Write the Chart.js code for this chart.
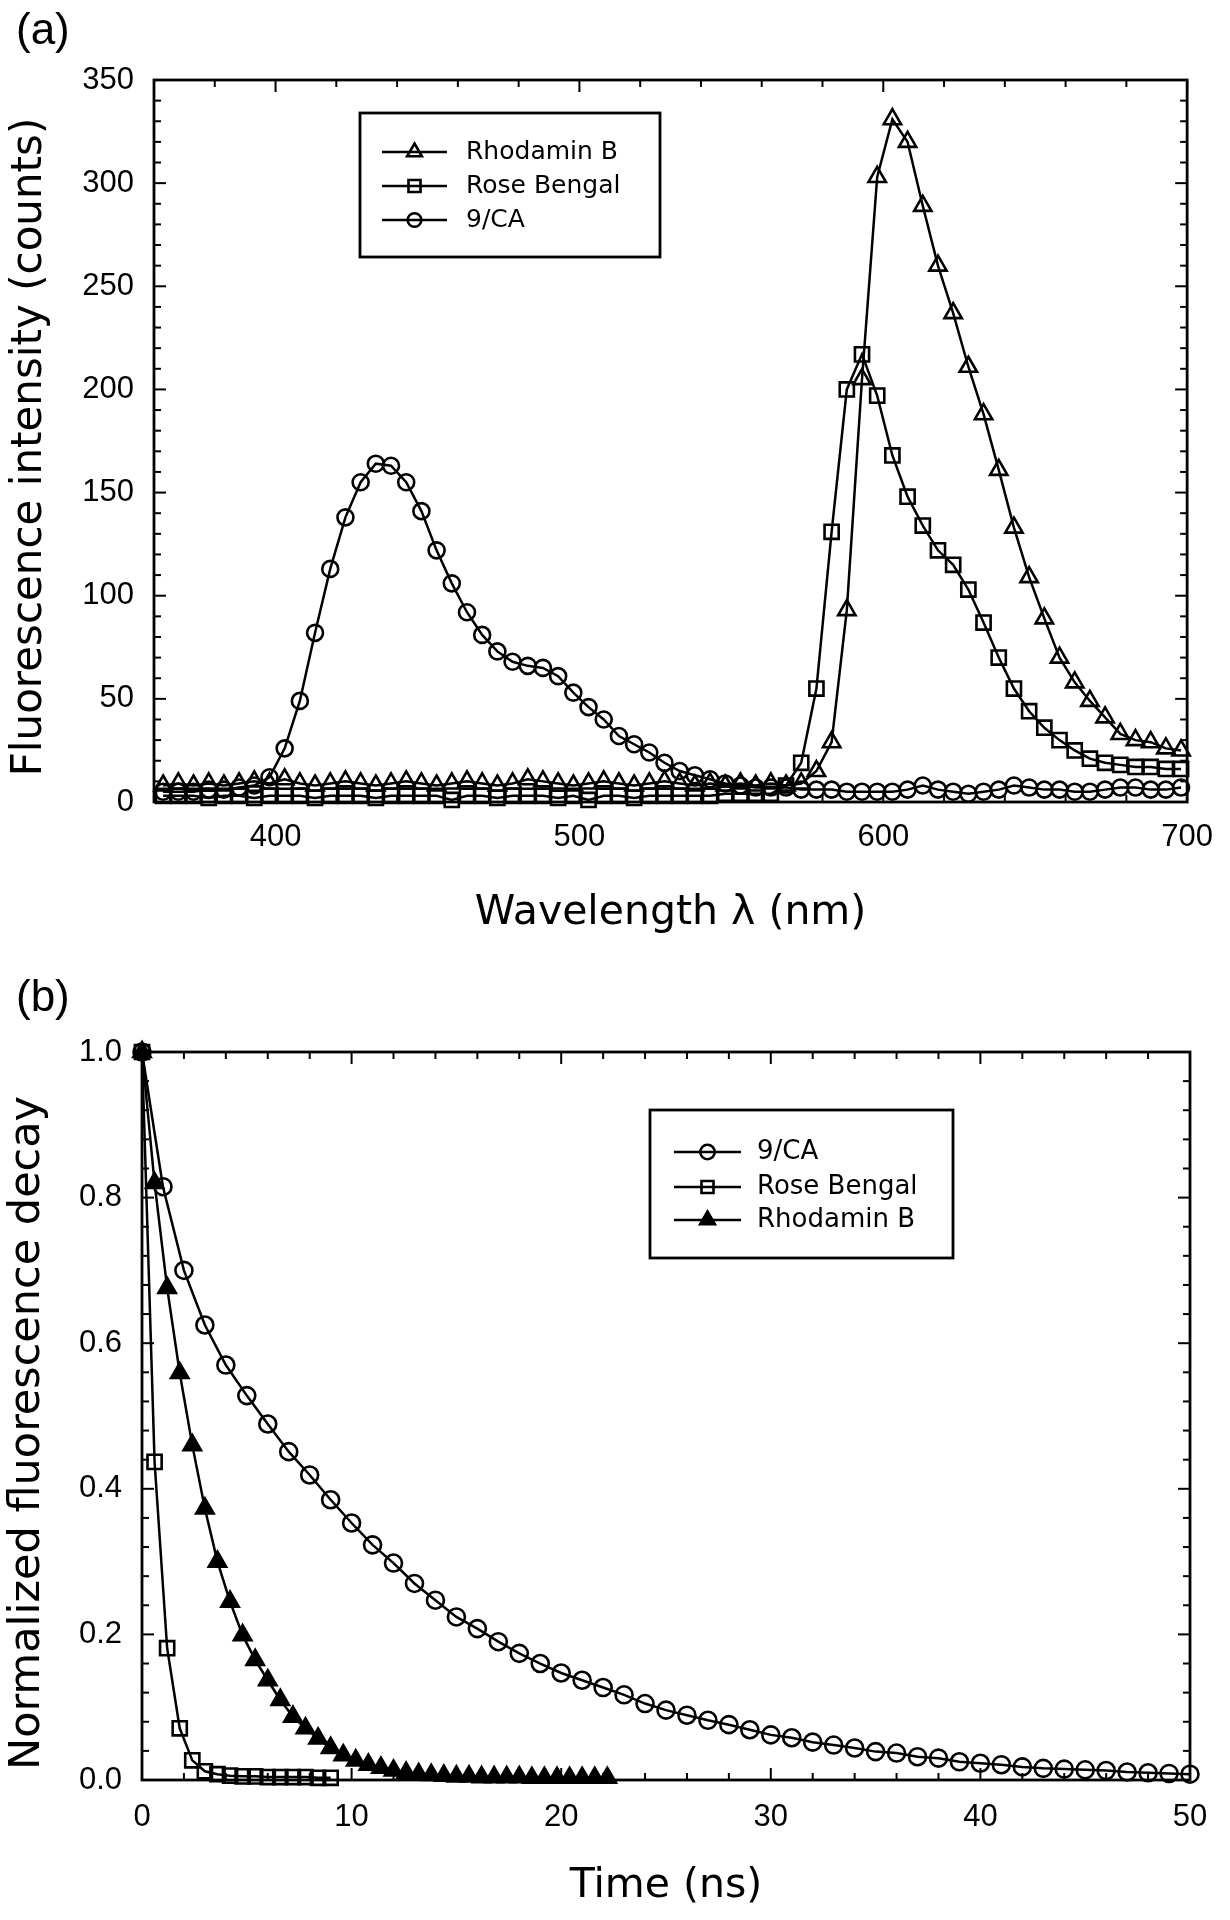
<!DOCTYPE html>
<html>
<head>
<meta charset="utf-8">
<script src="https://cdn.jsdelivr.net/npm/chart.js"></script>
<style>
  body { margin: 0; background: #fff; }
  canvas { display: block; }
  .panel { position: absolute; left: 0; width: 1230px; height: 960px; }
  .tag { position: absolute; left: 16px; font: 44px 'Liberation Sans', Arial, sans-serif; line-height: 1; color: #000; }
</style>
</head>
<body>
<div class="panel" style="top:0">
  <canvas id="chartA" width="1230" height="960"></canvas>
  <div class="tag" style="top:7px">(a)</div>
</div>
<div class="panel" style="top:960px">
  <canvas id="chartB" width="1230" height="960"></canvas>
  <div class="tag" style="top:14px">(b)</div>
</div>
<script>
// ---- (a) emission spectra ----
const wavelengths = [363,368,373,378,383,388,393,398,403,408,413,418,423,428,433,438,443,448,453,458,
  463,468,473,478,483,488,493,498,503,508,513,518,523,528,533,538,543,548,553,558,
  563,568,573,578,583,588,593,598,603,608,613,618,623,628,633,638,643,648,653,658,
  663,668,673,678,683,688,693,698];
const rhodaminSpec = [8,9,8,9,8,9,10,9,11,9, 8,9,10,9,8,9,10,9,8,9, 10,9,8,9,11,10,9,8,9,10,
  9,8,9,10,9,8,9,8,9,8, 9,8,9,
  15,29,93,205,303,331,320,289,260,237,211,188,161,133,109,89,70,58,49,41,33,30,29,26,25];
const roseSpec = [3,3,3,2,3,3,2,3,3,3, 2,3,3,3,2,3,3,3,3,1, 3,3,2,3,3,3,2,3,1,3,
  3,2,3,3,3,3,3,4,4,4, 4,
  8,19,55,131,200,217,197,168,148,134,122,115,103,87,70,55,44,36,30,25,21,19,18,17,17,16,16];
const caSpec = [5,5,5,6,6,7,8,12,26,49, 82,113,138,155,164,163,155,141,122,106,
  92,81,73,68,66,65,61,53,46,40, 32,28,24,19,15,13,11,9,8,7,
  7,7,6,6,6,5,5,5,5,6, 8,6,5,4,5,6,8,7,6,6, 5,5,6,7,7,6,6,7];
const xTicksA = [400, 500, 600, 700];
const yTicksA = [0, 50, 100, 150, 200, 250, 300, 350];

// ---- (b) decay curves ----
const caTime = [0,1,2,3,4,5,6,7,8,9,10,11,12,13,14,15,16,17,18,19,20,21,22,23,24,25,
  26,27,28,29,30,31,32,33,34,35,36,37,38,39,40,41,42,43,44,45,46,47,48,49,50];
const caDecay = [1.0,0.815,0.70,0.625,0.570,0.528,0.489,0.451,0.419,0.385,
  0.353,0.323,0.298,0.270,0.247,0.224,0.208,0.190,0.174,0.160,
  0.147,0.137,0.127,0.117,0.105,0.096,0.089,0.082,0.076,0.069,
  0.062,0.058,0.052,0.048,0.044,0.039,0.037,0.032,0.030,0.025,
  0.023,0.021,0.018,0.016,0.015,0.014,0.013,0.011,0.010,0.009,0.008];
const rbTime = [0,0.6,1.2,1.8,2.4,3.0,3.6,4.2,4.8,5.4,6.0,6.6,7.2,7.8,8.4,9.0];
const rbDecay = [1.0,0.437,0.181,0.071,0.027,0.012,0.008,0.006,0.005,0.005,0.004,0.004,0.004,0.004,0.003,0.003];
const rhTime = [0,0.6,1.2,1.8,2.4,3.0,3.6,4.2,4.8,5.4,6.0,6.6,7.2,7.8,8.4,9.0,9.6,10.2,10.8,11.4,
  12.0,12.6,13.2,13.8,14.4,15.0,15.6,16.2,16.8,17.4,18.0,18.6,19.2,19.8,20.4,21.0,21.6,22.2];
const rhDecay = [1.0,0.82,0.676,0.559,0.46,0.373,0.30,0.245,0.199,0.165,
  0.137,0.11,0.087,0.071,0.057,0.044,0.034,0.027,0.021,0.017,
  0.013,0.010,0.008,0.007,0.006,0.005,0.005,0.004,0.004,0.004,
  0.004,0.003,0.003,0.003,0.003,0.003,0.003,0.003];
const xTicksB = [0, 10, 20, 30, 40, 50];
const yTicksB = [0, 0.2, 0.4, 0.6, 0.8, 1.0];

const tickFont = { family: "'Liberation Sans', Arial, sans-serif", size: 31 };
const titleFont = { family: "'DejaVu Sans', sans-serif", size: 41 };
const HOLLOW = 'rgba(0,0,0,0)';

function series(label, xs, ys, style, r, fill) {
  return {
    label,
    data: xs.map((x, i) => ({ x, y: ys[i] })),
    borderColor: '#000', borderWidth: 2.5,
    pointStyle: style, pointRadius: r,
    pointBorderColor: '#000', pointBackgroundColor: fill, pointBorderWidth: 2.6,
    tension: 0, fill: false, clip: false
  };
}

function drawMarker(ctx, style, r, x, y) {
  ctx.beginPath();
  if (style === 'circle') {
    ctx.arc(x, y, r, 0, Math.PI * 2);
  } else if (style === 'rect') {
    const s = r * Math.SQRT1_2;
    ctx.rect(x - s, y - s, 2 * s, 2 * s);
  } else {
    ctx.moveTo(x, y - r);
    ctx.lineTo(x + r * 0.866, y + r / 2);
    ctx.lineTo(x - r * 0.866, y + r / 2);
    ctx.closePath();
  }
  ctx.fill();
  ctx.stroke();
}

// box round the plot with inward major/minor ticks on all four sides
const frameTicks = {
  id: 'frameTicks',
  afterDatasetsDraw(chart, args, o) {
    const { ctx, chartArea: a, scales: { x, y } } = chart;
    const isMajor = (v, m) => Math.abs(v / m - Math.round(v / m)) < 1e-6;
    const seg = (x1, y1, x2, y2) => { ctx.beginPath(); ctx.moveTo(x1, y1); ctx.lineTo(x2, y2); ctx.stroke(); };
    ctx.save();
    ctx.strokeStyle = '#000';
    ctx.lineWidth = 2.8;
    ctx.strokeRect(a.left, a.top, a.right - a.left, a.bottom - a.top);
    ctx.lineWidth = 2;
    const nx = Math.round((x.max - x.min) / o.xStep);
    for (let i = 0; i <= nx; i++) {
      const v = x.min + i * o.xStep;
      const px = x.getPixelForValue(v);
      const len = isMajor(v, o.xMajor) ? o.majorLen : o.minorLen;
      seg(px, a.bottom, px, a.bottom - len);
      seg(px, a.top, px, a.top + len);
    }
    const ny = Math.round((y.max - y.min) / o.yStep);
    for (let i = 0; i <= ny; i++) {
      const v = y.min + i * o.yStep;
      const py = y.getPixelForValue(v);
      const len = isMajor(v, o.yMajor) ? o.majorLen : o.minorLen;
      seg(a.left, py, a.left + len, py);
      seg(a.right, py, a.right - len, py);
    }
    ctx.restore();
  }
};

// rotated y-axis title, placed by hand
const yTitle = {
  id: 'yTitle',
  afterDraw(chart, args, o) {
    const ctx = chart.ctx;
    ctx.save();
    ctx.translate(o.x, o.y);
    ctx.rotate(-Math.PI / 2);
    ctx.font = o.font;
    ctx.fillStyle = '#000';
    ctx.textAlign = 'center';
    ctx.textBaseline = 'middle';
    ctx.fillText(o.text, 0, 0);
    ctx.restore();
  }
};

// legend drawn inside the plot: line sample + marker + label
const insideLegend = {
  id: 'insideLegend',
  afterDraw(chart, args, o) {
    const ctx = chart.ctx;
    const [x1, y1, x2, y2] = o.box;
    ctx.save();
    ctx.fillStyle = '#fff';
    ctx.fillRect(x1, y1, x2 - x1, y2 - y1);
    ctx.strokeStyle = '#000';
    ctx.lineWidth = 2.8;
    ctx.strokeRect(x1, y1, x2 - x1, y2 - y1);
    ctx.font = o.font;
    ctx.textBaseline = 'middle';
    chart.data.datasets.forEach((ds, i) => {
      const y = o.rows[i];
      ctx.strokeStyle = '#000';
      ctx.lineWidth = ds.borderWidth;
      ctx.beginPath(); ctx.moveTo(o.line[0], y); ctx.lineTo(o.line[1], y); ctx.stroke();
      ctx.fillStyle = ds.pointBackgroundColor;
      ctx.lineWidth = ds.pointBorderWidth;
      drawMarker(ctx, ds.pointStyle, ds.pointRadius * 0.85, (o.line[0] + o.line[1]) / 2, y);
      ctx.fillStyle = '#000';
      ctx.fillText(ds.label, o.textX, y);
    });
    ctx.restore();
  }
};

function axis(opts) {
  return {
    type: 'linear', min: opts.min, max: opts.max,
    afterBuildTicks: s => { s.ticks = opts.ticks.map(v => ({ value: v })); },
    afterFit: s => { if (opts.width) s.width = opts.width; if (opts.height) s.height = opts.height; },
    grid: { display: false, drawTicks: false },
    border: { display: false },
    ticks: { font: tickFont, color: '#000', padding: opts.pad, maxRotation: 0, autoSkip: false,
             callback: opts.fmt || (v => String(v)) },
    title: opts.title
      ? { display: true, text: opts.title, font: titleFont, color: '#000', padding: opts.titlePad }
      : { display: false }
  };
}

new Chart(document.getElementById('chartA'), {
  type: 'line',
  data: {
    datasets: [
      series('Rhodamin B', wavelengths, rhodaminSpec, 'triangle', 10, HOLLOW),
      series('Rose Bengal', wavelengths, roseSpec, 'rect', 10, HOLLOW),
      series('9/CA', wavelengths, caSpec, 'circle', 8, HOLLOW)
    ]
  },
  options: {
    responsive: false, animation: false, devicePixelRatio: 1,
    layout: { padding: { left: 0, top: 80, right: 35, bottom: 0 } },
    scales: {
      x: axis({ min: 360, max: 700, ticks: xTicksA, height: 158, pad: 17,
                title: 'Wavelength λ (nm)', titlePad: { top: 0, bottom: 22 } }),
      y: axis({ min: 0, max: 350, ticks: yTicksA, width: 154, pad: 20 })
    },
    plugins: {
      legend: { display: false },
      tooltip: { enabled: false },
      frameTicks: { xStep: 20, xMajor: 100, yStep: 10, yMajor: 50, majorLen: 12, minorLen: 7 },
      yTitle: { text: 'Fluorescence intensity (counts)', x: 30, y: 447, font: "42px 'DejaVu Sans', sans-serif" },
      insideLegend: { box: [360, 113, 660, 257], rows: [152, 186, 220], line: [382, 447], textX: 466,
                      font: "25px 'DejaVu Sans', sans-serif" }
    }
  },
  plugins: [frameTicks, yTitle, insideLegend]
});

new Chart(document.getElementById('chartB'), {
  type: 'line',
  data: {
    datasets: [
      series('9/CA', caTime, caDecay, 'circle', 8.5, HOLLOW),
      series('Rose Bengal', rbTime, rbDecay, 'rect', 10, HOLLOW),
      series('Rhodamin B', rhTime, rhDecay, 'triangle', 10, '#000')
    ]
  },
  options: {
    responsive: false, animation: false, devicePixelRatio: 1,
    layout: { padding: { left: 0, top: 92, right: 40, bottom: 0 } },
    scales: {
      x: axis({ min: 0, max: 50, ticks: xTicksB, height: 140, pad: 19,
                title: 'Time (ns)', titlePad: { top: 0, bottom: 9 } }),
      y: axis({ min: 0, max: 1, ticks: yTicksB, width: 142, pad: 20, fmt: v => v.toFixed(1) })
    },
    plugins: {
      legend: { display: false },
      tooltip: { enabled: false },
      frameTicks: { xStep: 2, xMajor: 10, yStep: 0.04, yMajor: 0.2, majorLen: 12, minorLen: 7 },
      yTitle: { text: 'Normalized fluorescence decay', x: 28, y: 473, font: "43px 'DejaVu Sans', sans-serif" },
      insideLegend: { box: [650, 150, 953, 298], rows: [192, 227, 260], line: [674, 741], textX: 757,
                      font: "26px 'DejaVu Sans', sans-serif" }
    }
  },
  plugins: [frameTicks, yTitle, insideLegend]
});
</script>
</body>
</html>
